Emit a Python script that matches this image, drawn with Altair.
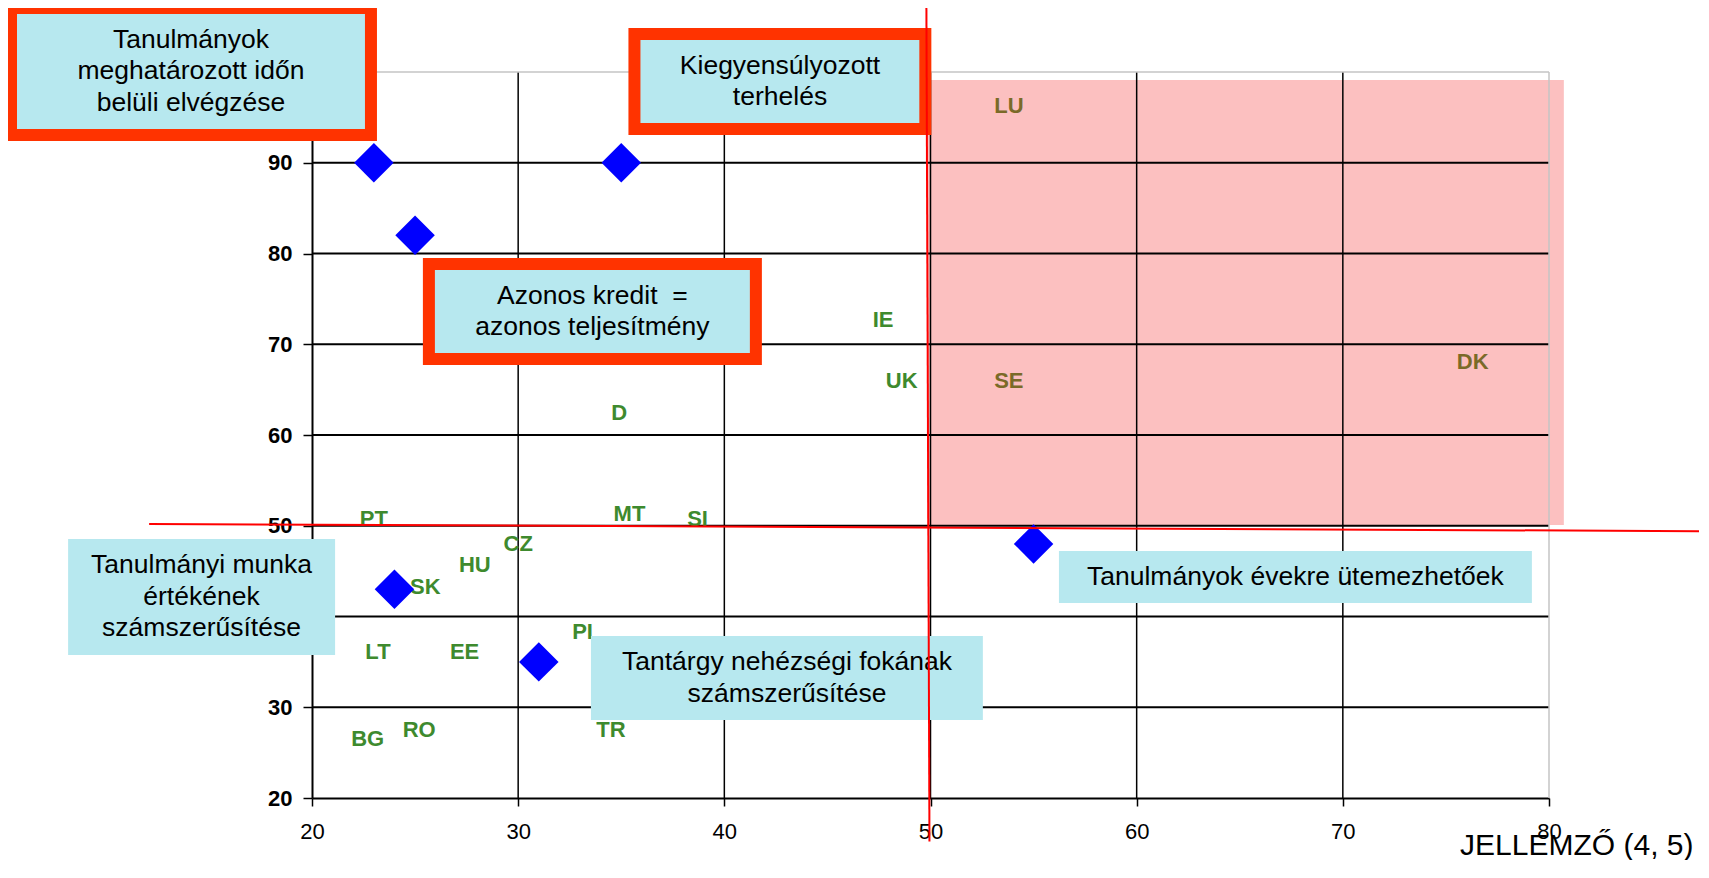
import altair as alt
import pandas as pd

# ---- chart data ----
countries = ["LU", "IE", "UK", "SE", "DK", "D", "PT", "MT", "SI", "CZ", "HU", "SK",
             "PL", "LT", "EE", "BG", "RO", "TR"]
country_x = [53.8, 47.7, 48.6, 53.8, 76.3, 34.9, 23.0, 35.4, 38.7, 30.0, 27.9, 25.5,
             33.3, 23.2, 27.4, 22.7, 25.2, 34.5]
country_y = [96.3, 72.7, 66.0, 66.0, 68.0, 62.4, 50.7, 51.3, 50.7, 48.0, 45.7, 43.2,
             38.3, 36.1, 36.1, 26.5, 27.5, 27.5]
country_group = ["top", "low", "low", "top", "top", "low", "low", "low", "low", "low",
                 "low", "low", "low", "low", "low", "low", "low", "low"]

diamond_x = [23, 35, 25, 24, 31, 55]
diamond_y = [90, 90, 82, 43, 35, 48]

x_ticks = [20, 30, 40, 50, 60, 70, 80]
y_ticks = [20, 30, 40, 50, 60, 70, 80, 90, 100]

# highlighted quadrant (data units)
quad_x = [49.83, 80.72]
quad_y = [50.08, 99.12]

# red threshold lines (data units)
thr_x1 = [12.1, 49.8]
thr_y1 = [50.2, 107.9]
thr_x2 = [87.3, 49.95]
thr_y2 = [49.4, 15.2]

# annotation boxes (data units)
box_text = [
    "Tanulmányok\nmeghatározott időn\nbelüli elvégzése",
    "Kiegyensúlyozott\nterhelés",
    "Azonos kredit\u00a0 =\nazonos teljesítmény",
    "Tanulmányi munka\nértékének\nszámszerűsítése",
    "Tantárgy nehézségi fokának\nszámszerűsítése",
    "Tanulmányok évekre ütemezhetőek",
]
box_lines = [3, 2, 2, 3, 2, 1]
box_x1 = [5.4, 35.64, 25.67, 8.17, 33.53, 56.23]
box_x2 = [22.86, 49.75, 41.53, 21.12, 52.54, 79.17]
box_y1 = [107.05, 104.19, 78.84, 48.54, 37.85, 47.22]
box_y2 = [93.06, 93.72, 68.37, 35.76, 28.59, 41.49]
box_tx = [14.13, 42.70, 33.60, 14.64, 43.04, 67.70]
box_ty = [100.1, 98.95, 73.61, 42.15, 33.22, 44.35]
box_border = [True, True, True, False, False, False]

# ---- tables ----
xs = alt.Scale(domain=[20, 80], nice=False, zero=False)
ys = alt.Scale(domain=[20, 100], nice=False, zero=False)

quad_df = pd.DataFrame({"x": [quad_x[0]], "x2": [quad_x[1]], "y": [quad_y[0]], "y2": [quad_y[1]]})
vgrid_df = pd.DataFrame({"x": x_ticks[1:-1], "y": [20] * 5, "y2": [100] * 5})
hgrid_df = pd.DataFrame({"y": y_ticks[1:-1], "x": [20] * 7, "x2": [80] * 7})
frame_df = pd.DataFrame({"x": [20, 80], "x2": [80, 80], "y": [100, 20], "y2": [100, 100]})
country_df = pd.DataFrame({"x": country_x, "y": country_y, "label": countries, "g": country_group})
diamond_df = pd.DataFrame({"x": diamond_x, "y": diamond_y})
thr_df = pd.DataFrame({"x": thr_x1, "y": thr_y1, "x2": thr_x2, "y2": thr_y2})
box_df = pd.DataFrame({"x": box_x1, "x2": box_x2, "y": box_y1, "y2": box_y2,
                       "tx": box_tx, "ty": box_ty, "label": box_text, "n": box_lines,
                       "border": box_border})

FONT = "Liberation Sans"
LINE_H = 31.5
PX_PER_Y = 726 / 80.0

x_axis = alt.Axis(values=x_ticks, grid=False, labelFlush=False, labelFont=FONT,
                  labelFontSize=22, labelColor="black", labelPadding=15,
                  domainColor="black", domainWidth=2, tickColor="black", tickSize=8,
                  tickWidth=1.5, title="JELLEMZŐ (4, 5)", titleFont=FONT, titleFontSize=30,
                  titleFontWeight="normal", titleColor="black", titleX=1381, titleY=56,
                  titleAlign="right", titleBaseline="alphabetic", titleAngle=0)
y_axis = alt.Axis(values=y_ticks, grid=False, labelFlush=False, labelFont=FONT,
                  labelFontSize=22, labelFontWeight="bold", labelColor="black",
                  labelPadding=11, domainColor="black", domainWidth=2, tickColor="black",
                  tickSize=9, tickWidth=1.5, title=None)

base = alt.Chart(quad_df).mark_rect(color="#fcc0c0").encode(
    x=alt.X("x:Q", scale=xs, axis=x_axis),
    x2="x2:Q",
    y=alt.Y("y:Q", scale=ys, axis=y_axis),
    y2="y2:Q",
)

vgrid = alt.Chart(vgrid_df).mark_rule(color="black", strokeWidth=1.5).encode(
    x=alt.X("x:Q", scale=xs), y=alt.Y("y:Q", scale=ys), y2="y2:Q")
hgrid = alt.Chart(hgrid_df).mark_rule(color="black", strokeWidth=2).encode(
    x=alt.X("x:Q", scale=xs), x2="x2:Q", y=alt.Y("y:Q", scale=ys))
frame = alt.Chart(frame_df).mark_rule(color="#c4c4c4", strokeWidth=1.5).encode(
    x=alt.X("x:Q", scale=xs), x2="x2:Q", y=alt.Y("y:Q", scale=ys), y2="y2:Q")

labels = alt.Chart(country_df).mark_text(font=FONT, fontSize=22, fontWeight="bold",
                                         align="center", baseline="middle").encode(
    x=alt.X("x:Q", scale=xs), y=alt.Y("y:Q", scale=ys), text="label:N",
    color=alt.Color("g:N", scale=alt.Scale(domain=["low", "top"], range=["#3e8a2e", "#7a6a28"]),
                    legend=None),
)

diamonds = alt.Chart(diamond_df).mark_point(shape="diamond", filled=True, size=1560,
                                            color="#0000ff", opacity=1).encode(
    x=alt.X("x:Q", scale=xs), y=alt.Y("y:Q", scale=ys))

boxes_b = alt.Chart(box_df).transform_filter("datum.border").mark_rect(
    fill="#b7e8ef", stroke="#ff3300", strokeWidth=12).encode(
    x=alt.X("x:Q", scale=xs), x2="x2:Q", y=alt.Y("y:Q", scale=ys), y2="y2:Q")
boxes_p = alt.Chart(box_df).transform_filter("!datum.border").mark_rect(
    fill="#b7e8ef").encode(
    x=alt.X("x:Q", scale=xs), x2="x2:Q", y=alt.Y("y:Q", scale=ys), y2="y2:Q")
box_txt = alt.Chart(box_df).transform_calculate(
    ty_first=f"datum.ty + (datum.n - 1) * {LINE_H / 2 / PX_PER_Y}"
).mark_text(font=FONT, fontSize=26.5, color="black", align="center",
            baseline="middle", lineBreak="\n", lineHeight=LINE_H).encode(
    x=alt.X("tx:Q", scale=xs), y=alt.Y("ty_first:Q", scale=ys), text="label:N")

thr = alt.Chart(thr_df).mark_rule(color="#ff0000", strokeWidth=2).encode(
    x=alt.X("x:Q", scale=xs), x2="x2:Q", y=alt.Y("y:Q", scale=ys), y2="y2:Q")

chart = alt.layer(base, vgrid, hgrid, frame, labels, diamonds, boxes_b, boxes_p, box_txt, thr).properties(
    width=1237, height=726,
    autosize=alt.AutoSizeParams(type="none"),
    padding={"left": 304, "top": 64, "right": 150, "bottom": 62},
    background="white",
).configure_view(stroke=None)

chart.save("out.html", embed_options={"renderer": "svg", "actions": False})
